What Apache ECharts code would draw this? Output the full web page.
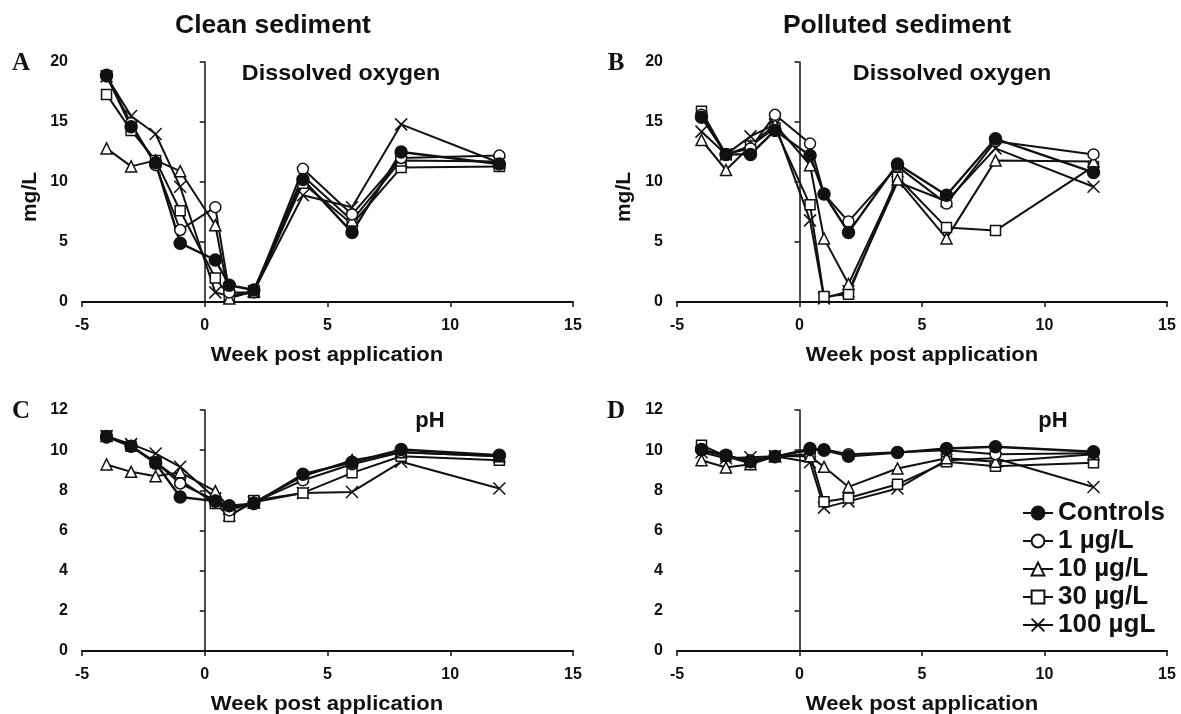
<!DOCTYPE html>
<html>
<head>
<meta charset="utf-8">
<title>Dissolved oxygen and pH after application</title>
<script src="https://cdn.jsdelivr.net/npm/echarts@6/dist/echarts.min.js"></script>
<style>
  html, body { margin: 0; padding: 0; background: #fff; }
  #chart { width: 1181px; height: 714px; }
</style>
</head>
<body>
<div id="chart"></div>
<script>
// Sampling times (weeks relative to application)
const weeks = [-4, -3, -2, -1, 0.43, 1, 2, 4, 6, 8, 12];
const groups = ['Controls', '1 µg/L', '10 µg/L', '30 µg/L', '100 µgL'];

// Dissolved oxygen (mg/L), clean sediment
const doCleanControls = [18.9, 14.6, 11.6, 4.9, 3.5, 1.4, 1.0, 10.2, 5.8, 12.5, 11.5];
const doClean1 = [18.8, 14.9, 11.4, 6.0, 7.9, 0.8, 0.8, 11.1, 7.3, 12.0, 12.2];
const doClean10 = [12.8, 11.3, 11.8, 10.9, 6.4, 0.3, 0.9, 10.5, 6.8, 11.8, 11.7];
const doClean30 = [17.3, 14.3, 11.8, 7.6, 2.0, 0.5, 0.8, 9.9, 6.5, 11.2, 11.3];
const doClean100 = [18.8, 15.5, 14.0, 9.6, 0.8, 0.5, 0.9, 8.9, 7.9, 14.8, 11.6];

// Dissolved oxygen (mg/L), polluted sediment
const doPollControls = [15.4, 12.3, 12.3, 14.3, 12.2, 9.0, 5.8, 11.5, 8.9, 13.6, 10.8];
const doPoll1 = [15.6, 12.3, 12.8, 15.6, 13.2, 9.0, 6.7, 11.3, 8.2, 13.4, 12.3];
const doPoll10 = [13.5, 11.0, 13.0, 14.8, 11.4, 5.3, 1.5, 10.2, 5.3, 11.8, 11.7];
const doPoll30 = [15.9, 12.3, 13.0, 14.5, 8.1, 0.45, 0.65, 10.4, 6.2, 5.95, 11.3];
const doPoll100 = [14.2, 12.3, 13.8, 14.8, 6.8, 0.3, 0.9, 10.0, 8.4, 12.8, 9.6];

// pH, clean sediment
const phCleanControls = [10.66, 10.2, 9.35, 7.67, 7.46, 7.23, 7.34, 8.8, 9.4, 10.03, 9.75];
const phClean1 = [10.7, 10.2, 9.4, 8.34, 7.5, 7.0, 7.4, 8.5, 9.3, 9.9, 9.7];
const phClean10 = [9.29, 8.92, 8.7, 8.9, 7.96, 7.1, 7.4, 8.7, 9.5, 9.9, 9.7];
const phClean30 = [10.7, 10.2, 9.4, 8.5, 7.34, 6.7, 7.5, 7.87, 8.87, 9.7, 9.5];
const phClean100 = [10.7, 10.3, 9.83, 9.17, 7.6, 6.76, 7.4, 7.87, 7.92, 9.42, 8.09];

// pH, polluted sediment
const phPollControls = [10.03, 9.75, 9.42, 9.67, 10.08, 10.0, 9.7, 9.88, 10.08, 10.17, 9.92];
const phPoll1 = [10.0, 9.7, 9.5, 9.7, 10.0, 10.05, 9.8, 9.9, 10.0, 9.8, 9.85];
const phPoll10 = [9.5, 9.14, 9.3, 9.7, 9.7, 9.17, 8.17, 9.09, 9.6, 9.42, 9.8];
const phPoll30 = [10.25, 9.7, 9.34, 9.7, 9.8, 7.43, 7.62, 8.3, 9.42, 9.2, 9.37];
const phPoll100 = [9.9, 9.6, 9.65, 9.7, 9.4, 7.14, 7.45, 8.09, 9.5, 9.6, 8.17];

const panels = [
  { data: [doCleanControls, doClean1, doClean10, doClean30, doClean100], max: 20, step: 5 },
  { data: [doPollControls, doPoll1, doPoll10, doPoll30, doPoll100], max: 20, step: 5 },
  { data: [phCleanControls, phClean1, phClean10, phClean30, phClean100], max: 12, step: 2 },
  { data: [phPollControls, phPoll1, phPoll10, phPoll30, phPoll100], max: 12, step: 2 }
];

const INK = '#111';
const SANS = '"Liberation Sans", Arial, Helvetica, sans-serif';
const SERIF = '"Liberation Serif", "Times New Roman", serif';

// Marker look per treatment group
const markers = [
  { symbol: 'circle', size: 12, fill: INK, line: 2.4 },
  { symbol: 'circle', size: 11, fill: '#fff', line: 2 },
  { symbol: 'triangle', size: 11, fill: '#fff', line: 2 },
  { symbol: 'rect', size: 10, fill: '#fff', line: 2 },
  { symbol: 'path://M0 0L10 10M10 0L0 10', size: 12, fill: '#fff', line: 2 }
];

const gridBoxes = [
  { left: 82, top: 62, width: 491, height: 240 },
  { left: 677, top: 62, width: 490, height: 240 },
  { left: 82, top: 410, width: 491, height: 241 },
  { left: 677, top: 410, width: 490, height: 241 }
];

const tickFont = { fontFamily: SANS, fontWeight: 'bold', fontSize: 16, color: INK };

const xAxes = gridBoxes.map((g, i) => ({
  type: 'value', gridIndex: i, min: -5, max: 15, interval: 5,
  axisLine: { show: true, onZero: false, lineStyle: { color: INK, width: 2 } },
  axisTick: { show: true, inside: false, length: 5, lineStyle: { color: INK, width: 1.5 } },
  axisLabel: Object.assign({ margin: 16 }, tickFont),
  splitLine: { show: false }
}));

// Left axes carry the tick labels; a twin axis sits on x = 0 with line and ticks
const yLabelAxes = panels.map((p, i) => ({
  type: 'value', gridIndex: i, min: 0, max: p.max, interval: p.step, position: 'left',
  axisLine: { show: false, onZero: false },
  axisTick: { show: false },
  axisLabel: Object.assign({ margin: 14 }, tickFont),
  splitLine: { show: false }
}));
const yLineAxes = panels.map((p, i) => ({
  type: 'value', gridIndex: i, min: 0, max: p.max, interval: p.step, position: 'left',
  axisLine: { show: true, onZero: true, lineStyle: { color: INK, width: 1.5 } },
  axisTick: { show: true, inside: false, length: 5, lineStyle: { color: INK, width: 1.5 } },
  axisLabel: { show: false },
  splitLine: { show: false }
}));

const series = [];
panels.forEach((p, pi) => {
  // draw highest concentration first so the controls end up on top
  [4, 3, 2, 1, 0].forEach(gi => {
    const m = markers[gi];
    series.push({
      type: 'line',
      name: groups[gi],
      xAxisIndex: pi,
      yAxisIndex: pi,
      data: weeks.map((w, k) => [w, p.data[gi][k]]),
      symbol: m.symbol,
      symbolSize: m.size,
      showAllSymbol: true,
      lineStyle: { color: INK, width: m.line },
      itemStyle: { color: m.fill, borderColor: INK, borderWidth: 1.5 },
      emphasis: { disabled: true },
      silent: true,
      animation: false
    });
  });
});

function txt(text, x, y, font, extra) {
  return Object.assign({
    type: 'text', x: x, y: y, silent: true,
    style: {
      text: text, font: font, fill: INK,
      align: 'center', verticalAlign: 'middle',
      textAlign: 'center', textVerticalAlign: 'middle'
    }
  }, extra || {});
}

const titleFont = 'bold 25px ' + SANS;
const innerFont = 'bold 22px ' + SANS;
const axisNameFont = 'bold 21px ' + SANS;
const unitFont = 'bold 20px ' + SANS;
const letterFont = 'bold 25px ' + SERIF;

const graphics = [
  txt('Clean sediment', 273, 26, titleFont, { scaleX: 1.06 }),
  txt('Polluted sediment', 897, 26, titleFont, { scaleX: 1.06 }),
  txt('A', 21, 64, letterFont),
  txt('B', 616, 64, letterFont),
  txt('C', 21, 412, letterFont),
  txt('D', 616, 412, letterFont),
  txt('Dissolved oxygen', 341, 74, innerFont, { scaleX: 1.06 }),
  txt('Dissolved oxygen', 952, 74, innerFont, { scaleX: 1.06 }),
  txt('pH', 430, 421, innerFont),
  txt('pH', 1053, 421, innerFont),
  txt('Week post application', 327, 355, axisNameFont, { scaleX: 1.05 }),
  txt('Week post application', 922, 355, axisNameFont, { scaleX: 1.05 }),
  txt('Week post application', 327, 704, axisNameFont, { scaleX: 1.05 }),
  txt('Week post application', 922, 704, axisNameFont, { scaleX: 1.05 }),
  txt('mg/L', 30, 197, unitFont, { rotation: Math.PI / 2, scaleX: 1.05 }),
  txt('mg/L', 624, 197, unitFont, { rotation: Math.PI / 2, scaleX: 1.05 })
];

const chart = echarts.init(document.getElementById('chart'), null, { renderer: 'canvas' });
chart.setOption({
  backgroundColor: '#fff',
  animation: false,
  grid: gridBoxes.map(g => Object.assign({ containLabel: false }, g)),
  xAxis: xAxes,
  yAxis: yLabelAxes.concat(yLineAxes),
  legend: {
    orient: 'vertical',
    left: 1022,
    top: 500,
    padding: 0,
    itemWidth: 30,
    itemHeight: 16,
    itemGap: 2,
    selectedMode: false,
    data: groups,
    textStyle: { fontFamily: SANS, fontWeight: 'bold', fontSize: 26, lineHeight: 25, color: INK }
  },
  graphic: graphics,
  series: series
});
</script>
</body>
</html>
